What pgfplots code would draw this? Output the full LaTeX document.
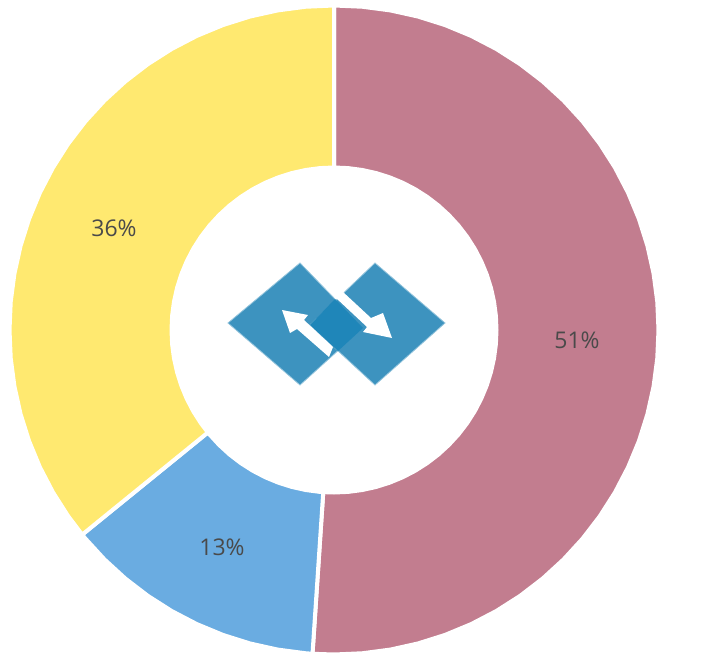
\documentclass[border=0pt]{standalone}
\usepackage{pgfplots}
\pgfplotsset{compat=1.18}
\usepackage{fontspec}
\setmainfont{Open Sans}
\definecolor{sliceA}{HTML}{C27D8F}
\definecolor{sliceB}{HTML}{6AACE1}
\definecolor{sliceC}{HTML}{FFE970}
\definecolor{logoA}{HTML}{3D93BF}
\definecolor{logoB}{HTML}{1F86B9}
\definecolor{labeltxt}{HTML}{4A4A4A}
\begin{document}
\begin{tikzpicture}
\begin{axis}[
  scale only axis, width=706pt, height=657pt,
  xmin=-334, xmax=372, ymin=-327, ymax=330,
  hide axis, clip=false,
  every axis plot/.append style={no markers},
]
\path (axis cs:-334,-327) rectangle (axis cs:372,330);
% 51 %
\addplot[data cs=polar, fill=sliceA, draw=white, line width=4pt] coordinates {
(90,324.5)(85,324.5)(80,324.5)(75,324.5)(70,324.5)(65,324.5)(60,324.5)(55,324.5)(50,324.5)(45,324.5)(40,324.5)(35,324.5)(30,324.5)(25,324.5)(20,324.5)(15,324.5)(10,324.5)(5,324.5)(0,324.5)
(-5,324.5)(-10,324.5)(-15,324.5)(-20,324.5)(-25,324.5)(-30,324.5)(-35,324.5)(-40,324.5)(-45,324.5)(-50,324.5)(-55,324.5)(-60,324.5)(-65,324.5)(-70,324.5)(-75,324.5)(-80,324.5)(-85,324.5)(-90,324.5)(-93.8,324.5)
(-93.8,162.5)(-90,162.5)(-85,162.5)(-80,162.5)(-75,162.5)(-70,162.5)(-65,162.5)(-60,162.5)(-55,162.5)(-50,162.5)(-45,162.5)(-40,162.5)(-35,162.5)(-30,162.5)(-25,162.5)(-20,162.5)(-15,162.5)(-10,162.5)(-5,162.5)
(0,162.5)(5,162.5)(10,162.5)(15,162.5)(20,162.5)(25,162.5)(30,162.5)(35,162.5)(40,162.5)(45,162.5)(50,162.5)(55,162.5)(60,162.5)(65,162.5)(70,162.5)(75,162.5)(80,162.5)(85,162.5)(90,162.5)
} -- cycle;
% 13 %
\addplot[data cs=polar, fill=sliceB, draw=white, line width=4pt] coordinates {
(-93.8,324.5)(-95,324.5)(-100,324.5)(-105,324.5)(-110,324.5)(-115,324.5)(-120,324.5)(-125,324.5)(-130,324.5)(-135,324.5)(-140,324.5)(-140.9,324.5)
(-140.9,162.5)(-140,162.5)(-135,162.5)(-130,162.5)(-125,162.5)(-120,162.5)(-115,162.5)(-110,162.5)(-105,162.5)(-100,162.5)(-95,162.5)(-93.8,162.5)
} -- cycle;
% 36 %
\addplot[data cs=polar, fill=sliceC, draw=white, line width=4pt] coordinates {
(-140.9,324.5)(-145,324.5)(-150,324.5)(-155,324.5)(-160,324.5)(-165,324.5)(-170,324.5)(-175,324.5)(-180,324.5)(-185,324.5)(-190,324.5)(-195,324.5)(-200,324.5)(-205,324.5)(-210,324.5)(-215,324.5)(-220,324.5)(-225,324.5)(-230,324.5)(-235,324.5)(-240,324.5)(-245,324.5)(-250,324.5)(-255,324.5)(-260,324.5)(-265,324.5)(-270,324.5)
(-270,162.5)(-265,162.5)(-260,162.5)(-255,162.5)(-250,162.5)(-245,162.5)(-240,162.5)(-235,162.5)(-230,162.5)(-225,162.5)(-220,162.5)(-215,162.5)(-210,162.5)(-205,162.5)(-200,162.5)(-195,162.5)(-190,162.5)(-185,162.5)(-180,162.5)(-175,162.5)(-170,162.5)(-165,162.5)(-160,162.5)(-155,162.5)(-150,162.5)(-145,162.5)(-140.9,162.5)
} -- cycle;
% logo
\addplot[fill=logoA, draw=logoA!55, line width=0.8pt] coordinates {(-106,7)(-34,67)(29,2)(-34,-55)} -- cycle;
\addplot[fill=logoA, draw=logoA!55, line width=0.8pt] coordinates {(-24,5)(41,67)(111,7)(41,-55)} -- cycle;
\addplot[fill=logoB, draw=none] coordinates {(1,31)(29,2)(4,-21)(-24,5)} -- cycle;
\addplot[fill=white, draw=none] coordinates {(-52,20)(-26,15)(-30,10)(-1,-17)(-5,-27)(-37,1)(-44,-3)} -- cycle;
\addplot[fill=white, draw=none] coordinates {(2,32)(9,38)(37,12)(49,17)(58,-8)(29,-2)(33,3)} -- cycle;
\node[font=\fontsize{23}{27}\selectfont, text=labeltxt] at (axis cs:243,-10) {51\%};
\node[font=\fontsize{23}{27}\selectfont, text=labeltxt] at (axis cs:-112,-217) {13\%};
\node[font=\fontsize{23}{27}\selectfont, text=labeltxt] at (axis cs:-220,102) {36\%};
\end{axis}
\end{tikzpicture}
\end{document}
